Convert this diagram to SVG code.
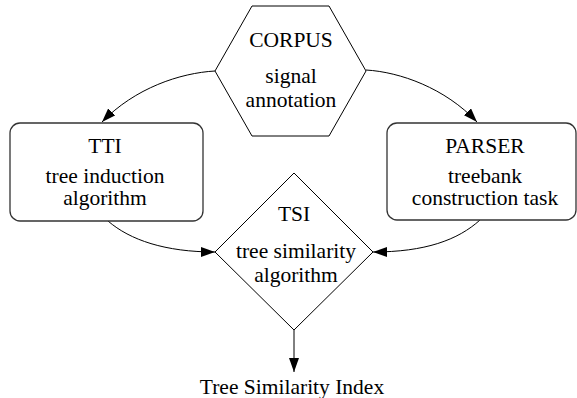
<svg xmlns="http://www.w3.org/2000/svg" width="577" height="398" viewBox="0 0 577 398">
<style>
text{font-family:'Liberation Serif','Times New Roman',Times,'DejaVu Serif',serif;font-size:21.5px;fill:#000;text-anchor:middle}
.shape{fill:#fff;stroke:#000;stroke-width:1}
.box{fill:#fff;stroke:#333;stroke-width:1.3}
.edge{fill:none;stroke:#000;stroke-width:1}
</style>
<defs>
<marker id="arr" markerUnits="userSpaceOnUse" markerWidth="14" markerHeight="10" refX="14" refY="5" orient="auto">
<path d="M0,0 L14,5 L0,10 z" fill="#000"/>
</marker>
</defs>
<g id="connectors">
<path class="edge" d="M215,71 C180,73 135,88 102,122" marker-end="url(#arr)"/>
<path class="edge" d="M366,70 C400,72 445,88 477,122" marker-end="url(#arr)"/>
<path class="edge" d="M108,221 C130,240 165,252 215,252" marker-end="url(#arr)"/>
<path class="edge" d="M480,220 C458,240 425,252 373,252" marker-end="url(#arr)"/>
<path class="edge" d="M294,330 L294,372" marker-end="url(#arr)"/>
</g>
<g id="corpus">
<polygon class="shape" points="252,6 329,6 366,71 329,136 252,136 215,71"/>
<text x="291" y="47">CORPUS</text>
<text x="291" y="83">signal</text>
<text x="291" y="107">annotation</text>
</g>
<g id="tti">
<rect class="box" x="10" y="123" width="193" height="98" rx="10"/>
<text x="105" y="153">TTI</text>
<text x="105" y="183">tree induction</text>
<text x="105" y="205">algorithm</text>
</g>
<g id="parser">
<rect class="box" x="387" y="123" width="189" height="97" rx="10"/>
<text x="485" y="153">PARSER</text>
<text x="485" y="183">treebank</text>
<text x="485" y="205">construction task</text>
</g>
<g id="tsi">
<polygon class="shape" points="294,173 373,252 294,330 215,252"/>
<text x="294" y="221">TSI</text>
<text x="296" y="258">tree similarity</text>
<text x="296" y="282">algorithm</text>
</g>
<g id="output">
<text x="292" y="394">Tree Similarity Index</text>
</g>
</svg>
